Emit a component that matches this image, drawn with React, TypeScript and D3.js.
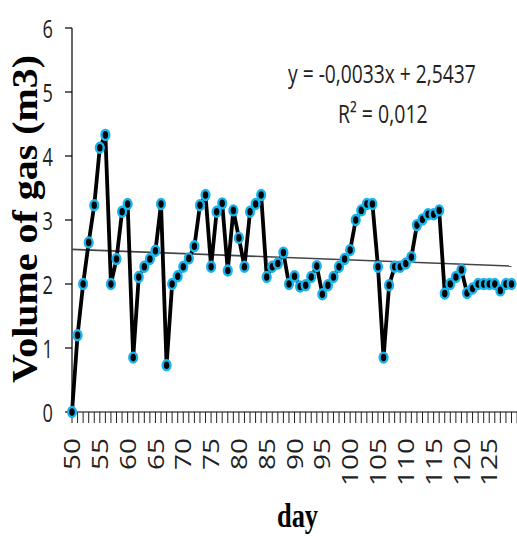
import React from 'react';
import * as d3 from 'd3';

// days 50..129, one reading per day
const days = d3.range(50, 130);
const gasVolume = [
  0, 1.2, 2.0, 2.65, 3.23, 4.13, 4.33, 2.0, 2.39, 3.13,
  3.25, 0.85, 2.11, 2.27, 2.39, 2.52, 3.25, 0.73, 2.0, 2.12,
  2.27, 2.4, 2.59, 3.23, 3.39, 2.27, 3.13, 3.26, 2.21, 3.15,
  2.72, 2.27, 3.13, 3.25, 3.39, 2.11, 2.27, 2.32, 2.49, 2.0,
  2.12, 1.96, 1.98, 2.11, 2.28, 1.84, 1.98, 2.11, 2.27, 2.39,
  2.53, 3.0, 3.15, 3.25, 3.25, 2.27, 0.85, 1.98, 2.27, 2.27,
  2.32, 2.42, 2.92, 3.01, 3.09, 3.09, 3.15, 1.85, 2.0, 2.11,
  2.22, 1.86, 1.93, 2.0, 2.0, 2.0, 2.0, 1.9, 2.0, 2.0,
];
const yTicks = [0, 1, 2, 3, 4, 5, 6];
const xLabelDays = [50, 55, 60, 65, 70, 75, 80, 85, 90, 95, 100, 105, 110, 115, 120, 125];
// linear trend as given on the chart (x = point index starting at 1)
const trendSlope = -0.0033;
const trendIntercept = 2.5437;
const equationText = 'y = -0,0033x + 2,5437';
const r2Text = 'R² = 0,012';

const W = 517;
const H = 536;

export default function App() {
  const x = d3.scaleLinear().domain([50, 129]).range([72, 511.5]);
  const y = d3.scaleLinear().domain([0, 6]).range([412, 28]);

  const line = d3
    .line<number>()
    .x((_, i) => x(days[i]))
    .y((d) => y(d));

  const trend = (d: number) => trendSlope * (d - 49) + trendIntercept;
  const axisTicks = d3.range(50, 131);
  const sans = '"Open Sans", sans-serif';
  const serif = '"Liberation Serif", "DejaVu Serif", serif';

  return (
    <svg
      width={W}
      height={H}
      style={{ position: 'absolute', left: 0, top: 0, background: '#fff' }}
    >
      <rect width={W} height={H} fill="#fff" />

      {/* y axis */}
      <line x1={72} x2={72} y1={y(6)} y2={y(0)} stroke="#000" strokeWidth={1.2} />
      {yTicks.map((t) => (
        <g key={t}>
          <line x1={65} x2={72} y1={y(t)} y2={y(t)} stroke="#000" strokeWidth={1.2} />
          <text
            transform={`translate(53,${y(t)}) scale(0.7,1)`}
            textAnchor="end"
            dominantBaseline="central"
            fontFamily={sans}
            fontSize={26}
            fill="#222"
          >
            {t}
          </text>
        </g>
      ))}

      {/* x axis */}
      <line x1={72} x2={W} y1={y(0)} y2={y(0)} stroke="#000" strokeWidth={1.2} />
      {axisTicks.map((d) => (
        <line key={d} x1={x(d)} x2={x(d)} y1={y(0)} y2={y(0) + 11} stroke="#222" strokeWidth={1} />
      ))}
      {xLabelDays.map((d) => (
        <text
          key={d}
          transform={`translate(${x(d)},438) scale(1,1.33) rotate(-90)`}
          textAnchor="end"
          dominantBaseline="central"
          fontFamily={sans}
          fontSize={21}
          fill="#222"
        >
          {d}
        </text>
      ))}

      {/* trendline */}
      <line
        x1={x(50)}
        x2={x(129)}
        y1={y(trend(50))}
        y2={y(trend(129))}
        stroke="#444"
        strokeWidth={1.6}
      />

      {/* series */}
      <path d={line(gasVolume) ?? ''} fill="none" stroke="#000" strokeWidth={3.8} strokeLinejoin="round" />
      {gasVolume.map((v, i) => (
        <ellipse
          key={i}
          cx={x(days[i])}
          cy={y(v)}
          rx={3.9}
          ry={5}
          fill="#000"
          stroke="#19b4ee"
          strokeWidth={2.4}
        />
      ))}

      {/* trend equation */}
      <text
        transform="translate(288,83) scale(0.77,1)"
        fontFamily={sans}
        fontSize={25}
        fill="#222"
      >
        {equationText}
      </text>
      <text
        transform="translate(338,123) scale(0.78,1)"
        fontFamily={sans}
        fontSize={25}
        fill="#222"
      >
        {r2Text}
      </text>

      {/* axis titles */}
      <text
        transform="translate(37,219) rotate(-90)"
        textAnchor="middle"
        fontFamily={serif}
        fontWeight="bold"
        fontSize={35}
        textLength={328}
        lengthAdjust="spacingAndGlyphs"
        fill="#000"
      >
        Volume of gas (m3)
      </text>
      <text
        transform="translate(297.5,527) scale(0.8,1)"
        textAnchor="middle"
        fontFamily={serif}
        fontWeight="bold"
        fontSize={33}
        fill="#000"
      >
        day
      </text>
    </svg>
  );
}
